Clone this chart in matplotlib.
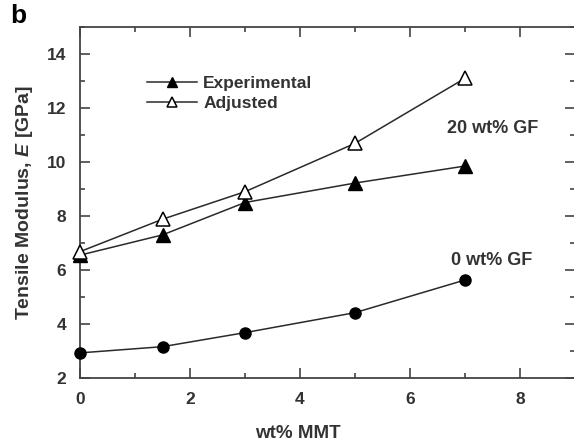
import matplotlib
matplotlib.use("Agg")
import matplotlib.pyplot as plt
from matplotlib.ticker import MultipleLocator

plt.rcParams['font.family'] = ['Liberation Sans', 'DejaVu Sans']
plt.rcParams['mathtext.fontset'] = 'custom'
plt.rcParams['mathtext.it'] = 'Liberation Sans:bold:italic'
plt.rcParams['mathtext.rm'] = 'Liberation Sans:bold'

mmt = [0, 1.5, 3, 5, 7]
gf0 = [2.93, 3.16, 3.68, 4.42, 5.63]
experimental = [6.55, 7.3, 8.5, 9.22, 9.85]
adjusted = [6.68, 7.88, 8.9, 10.69, 13.1]

fig = plt.figure(figsize=(5.74, 4.45), dpi=100)
ax = fig.add_axes([80/574, (445-378)/445, 495/574, (378-27)/445])

lc = '#2a2a2a'
tc = '#333333'
ax.plot(mmt, experimental, '-', color=lc, lw=1.1, marker='^', ms=10,
        mfc='black', mec='black', label='Experimental', clip_on=False, zorder=3)
ax.plot(mmt, adjusted, '-', color=lc, lw=1.1, marker='^', ms=10,
        mfc='white', mec='black', mew=1.1, label='Adjusted', clip_on=False, zorder=3)
ax.plot(mmt, gf0, '-', color=lc, lw=1.1, marker='o', ms=8,
        mfc='black', mec='black', clip_on=False, zorder=3)

ax.set_xlim(0, 9)
ax.set_ylim(2, 15)
ax.xaxis.set_major_locator(MultipleLocator(2))
ax.xaxis.set_minor_locator(MultipleLocator(1))
ax.yaxis.set_major_locator(MultipleLocator(2))
ax.yaxis.set_minor_locator(MultipleLocator(1))
ax.tick_params(which='both', direction='in', top=True, right=True, width=1.2, color='#444444')
ax.tick_params(which='major', length=7, labelsize=12.5)
ax.tick_params(axis='x', which='major', pad=10)
ax.tick_params(axis='y', which='major', pad=10)
ax.tick_params(which='minor', length=3.5)
for lab in ax.get_xticklabels() + ax.get_yticklabels():
    lab.set_fontweight('bold')
    lab.set_color(tc)
for s in ax.spines.values():
    s.set_linewidth(1.3)
    s.set_color('#444444')

ax.set_xlabel('wt% MMT', fontsize=13.5, fontweight='bold', color=tc)
ax.xaxis.set_label_coords(0.44, -0.135)
ax.set_ylabel('Tensile Modulus, $E$ [GPa]', fontsize=14, fontweight='bold', color=tc, labelpad=8)

ax.text(7.51, 11.25, '20 wt% GF', ha='center', va='center', fontsize=13, fontweight='bold', color=tc)
ax.text(7.48, 6.35, '0 wt% GF', ha='center', va='center', fontsize=13, fontweight='bold', color=tc)

leg = ax.legend(loc='upper left', bbox_to_anchor=(0.135, 0.862), frameon=False,
                prop={'weight': 'bold', 'size': 12.5}, handlelength=2.9, markerscale=0.75,
                handletextpad=0.35, labelspacing=0.3, borderaxespad=0, borderpad=0)
for t in leg.get_texts():
    t.set_color(tc)

fig.text(10/574, 1 - 16/445, 'b', fontsize=19, fontweight='bold', va='center', ha='left')

fig.savefig('out.png', dpi=100)
